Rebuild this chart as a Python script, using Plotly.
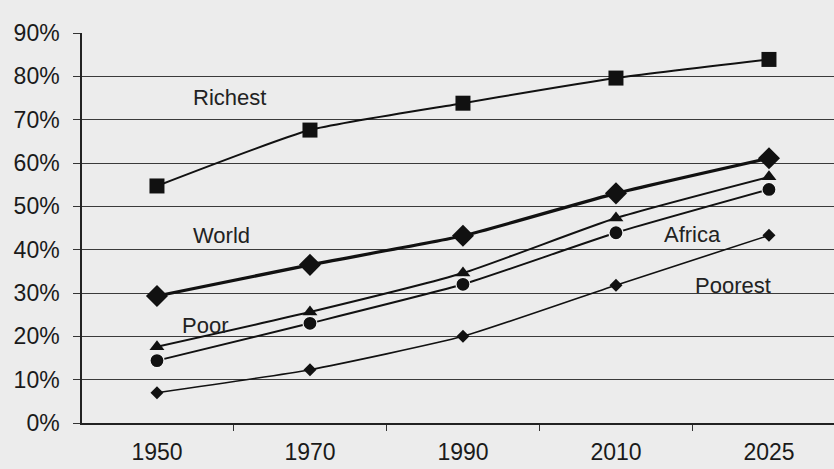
import plotly.graph_objects as go

years = ["1950", "1970", "1990", "2010", "2025"]
richest = [54.7, 67.6, 73.8, 79.6, 83.9]
world = [29.3, 36.5, 43.2, 53.0, 61.1]
poor = [17.6, 25.6, 34.6, 47.3, 56.8]
africa = [14.4, 23.0, 32.0, 43.9, 53.9]
poorest = [7.0, 12.3, 20.0, 31.8, 43.3]
yticks = [0, 10, 20, 30, 40, 50, 60, 70, 80, 90]

xpos = list(range(len(years)))

series = [
    ("Richest", richest, "square", 15, 2, 0),
    ("World", world, "diamond", 17, 3.2, 0),
    ("Poor", poor, "triangle-up", 13, 2, 0),
    ("Africa", africa, "circle", 14, 2, 1.2),
    ("Poorest", poorest, "diamond", 10, 1.6, 0),
]

fig = go.Figure()
for name, vals, sym, size, lw, ow in series:
    fig.add_trace(go.Scatter(
        x=xpos, y=[v / 100 for v in vals], name=name, mode="lines+markers",
        line=dict(color="#111111", width=lw, shape="spline", smoothing=0.5),
        marker=dict(symbol=sym, size=size, color="#111111",
                    line=dict(color="#f4f4f4", width=ow)),
        showlegend=False, cliponaxis=False))

labels = [("Richest", 0.477, 0.751), ("World", 0.422, 0.433), ("Poor", 0.311, 0.226),
          ("Africa", 3.497, 0.434), ("Poorest", 3.765, 0.318)]
for t, x, y in labels:
    fig.add_annotation(x=x, y=y, text=t, showarrow=False,
                       font=dict(family="Liberation Sans, Arial", size=22, color="#222"))

fig.update_layout(
    width=834, height=469,
    margin=dict(l=82, r=0, t=33, b=46, autoexpand=False),
    paper_bgcolor="#ececec", plot_bgcolor="#ececec",
    font=dict(family="Liberation Sans, Arial", size=22, color="#1a1a1a"),
)
fig.update_xaxes(
    range=[-0.49, 4.425], tickmode="array", tickvals=xpos, ticktext=years,
    ticks="", showgrid=False, zeroline=False, automargin=False,
    showline=True, linecolor="#222", linewidth=1.5,
    ticklabelstandoff=8, tickfont=dict(size=23),
    minor=dict(tickmode="array", tickvals=[0.5, 1.5, 2.5, 3.5], ticks="outside",
               ticklen=6, tickcolor="#333", tickwidth=1, showgrid=False),
)
fig.update_yaxes(
    range=[0, 0.9], tickmode="array", tickvals=[v / 100 for v in yticks],
    ticktext=[f"{v}%" for v in yticks], automargin=False,
    showgrid=True, gridcolor="#3a3a3a", gridwidth=1, zeroline=False,
    showline=True, linecolor="#222", linewidth=1.5,
    ticks="outside", ticklen=7, tickcolor="#333",
    ticklabelstandoff=9, tickfont=dict(size=23),
)
fig.write_html("out.html")
